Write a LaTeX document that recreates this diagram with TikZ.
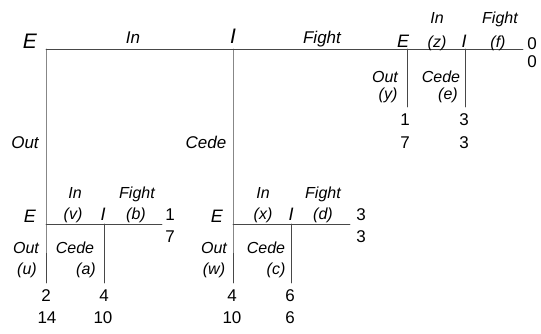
\documentclass[tikz,border=0pt]{standalone}
\usepackage{fontspec}
\setmainfont{Liberation Sans}
\usetikzlibrary{arrows}

\begin{document}
\begin{tikzpicture}[line cap=round,line join=round,x=1pt,y=-1pt,
    edge/.style={color=black!72,line width=0.8pt},
    act/.style={anchor=base,inner sep=0pt,font=\fontsize{16}{16}\selectfont\itshape},
    bigact/.style={anchor=base,inner sep=0pt,font=\fontsize{17}{17}\selectfont\itshape},
    pl/.style={anchor=base,inner sep=0pt,font=\fontsize{18}{18}\selectfont\itshape},
    bigpl/.style={anchor=base,inner sep=0pt,font=\fontsize{21}{21}\selectfont\itshape},
    pay/.style={anchor=base,inner sep=0pt,font=\fontsize{17}{17}\selectfont}]
      \useasboundingbox (0,0) rectangle (541,333);
      % decision points
      \coordinate (root) at (46,49);
      \coordinate (ione) at (233,49);
      \coordinate (etop) at (407,49);
      \coordinate (itop) at (465,49);
      \coordinate (fend) at (523,49);
      \coordinate (etopout) at (407,107);
      \coordinate (itopcede) at (465,107);
      \coordinate (eleft) at (46,224);
      \coordinate (ileft) at (104,224);
      \coordinate (fleft) at (162,224);
      \coordinate (oleft) at (46,283);
      \coordinate (cleft) at (104,283);
      \coordinate (emid) at (233,224);
      \coordinate (imid) at (291,224);
      \coordinate (fmid) at (350,224);
      \coordinate (omid) at (233,283);
      \coordinate (cmid) at (291,283);
      % branches
      \draw[edge] (root) -- (fend);
      \draw[edge] (root) -- (eleft) -- (oleft);
      \draw[edge] (ione) -- (emid) -- (omid);
      \draw[edge] (etop) -- (etopout);
      \draw[edge] (itop) -- (itopcede);
      \draw[edge] (eleft) -- (fleft);
      \draw[edge] (ileft) -- (cleft);
      \draw[edge] (emid) -- (fmid);
      \draw[edge] (imid) -- (cmid);
      % first stage
      \node[bigpl] (lroot) at (30,48) {E};
      \node[bigact] (lin) at (133,43) {In};
      \node[bigpl] (lione) at (233,43) {I};
      \node[bigact] (lfight) at (322,43) {Fight};
      \node[bigact] (lout) at (25,148) {Out};
      \node[bigact] (lcede) at (206,148) {Cede};
      % top right
      \node[pl] (letop) at (403,47) {E};
      \node[act] (linz) at (437,23) {In};
      \node[act] (lz) at (437,47) {(z)};
      \node[pl] (litop) at (464,47) {I};
      \node[act] (lfightf) at (500,23) {Fight};
      \node[act] (lf) at (498,47) {(f)};
      \node[pay] (pf1) at (532,49) {0};
      \node[pay] (pf2) at (532,67) {0};
      \node[act] (louty) at (385,82) {Out};
      \node[act] (ly) at (388,99) {(y)};
      \node[act] (lcedee) at (441,82) {Cede};
      \node[act] (le) at (448,99) {(e)};
      \node[pay] (py1) at (405,125) {1};
      \node[pay] (py2) at (405,148) {7};
      \node[pay] (pe1) at (464,125) {3};
      \node[pay] (pe2) at (464,148) {3};
      % left subgame
      \node[pl] (leleft) at (30,222) {E};
      \node[act] (linv) at (75,198) {In};
      \node[act] (lv) at (73,219) {(v)};
      \node[pl] (lileft) at (103,220) {I};
      \node[act] (lfightb) at (137,198) {Fight};
      \node[act] (lb) at (136,219) {(b)};
      \node[pay] (pb1) at (170,220) {1};
      \node[pay] (pb2) at (170,242) {7};
      \node[act] (loutu) at (26,253) {Out};
      \node[act] (lu) at (27,274) {(u)};
      \node[act] (lcedea) at (75,253) {Cede};
      \node[act] (la) at (86,274) {(a)};
      \node[pay] (pu1) at (46,301) {2};
      \node[pay] (pu2) at (47,323) {14};
      \node[pay] (pa1) at (104,301) {4};
      \node[pay] (pa2) at (103,323) {10};
      % middle subgame
      \node[pl] (lemid) at (217,222) {E};
      \node[act] (linx) at (263,198) {In};
      \node[act] (lx) at (263,219) {(x)};
      \node[pl] (limid) at (291,220) {I};
      \node[act] (lfightd) at (323,198) {Fight};
      \node[act] (ld) at (323,219) {(d)};
      \node[pay] (pd1) at (361,220) {3};
      \node[pay] (pd2) at (361,242) {3};
      \node[act] (loutw) at (214,253) {Out};
      \node[act] (lw) at (214,274) {(w)};
      \node[act] (lcedec) at (266,253) {Cede};
      \node[act] (lc) at (276,274) {(c)};
      \node[pay] (pw1) at (232,301) {4};
      \node[pay] (pw2) at (232,323) {10};
      \node[pay] (pc1) at (290,301) {6};
      \node[pay] (pc2) at (290,323) {6};
\end{tikzpicture}
\end{document}
